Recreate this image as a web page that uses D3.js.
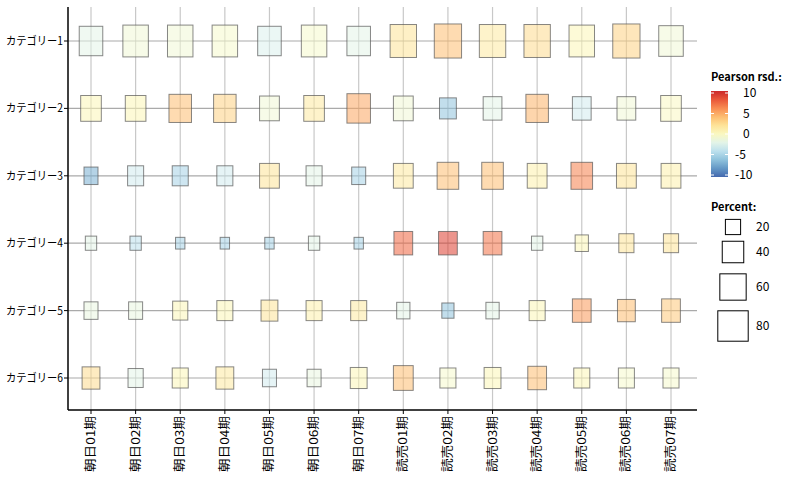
<!DOCTYPE html><html><head><meta charset="utf-8"><script src="https://cdn.jsdelivr.net/npm/d3@7"></script>
<style>body{margin:0;background:#fff}text{font-family:"Noto Sans CJK JP",Arial,sans-serif}</style></head><body><svg id="c" width="800" height="480"></svg>
<script>
const columns=["朝日01期","朝日02期","朝日03期","朝日04期","朝日05期","朝日06期","朝日07期","読売01期","読売02期","読売03期","読売04期","読売05期","読売06期","読売07期"];
const categories=["カテゴリー1","カテゴリー2","カテゴリー3","カテゴリー4","カテゴリー5","カテゴリー6"];
const percent=[
[82,96,96,96,82,96,82,103,110,103,103,96,110,89],
[63,63,75,75,58,63,82,58,42,52,75,52,52,63],
[29,38,38,38,58,38,29,58,69,69,58,69,58,58],
[19,19,13,13,13,19,13,52,52,52,19,26,34,34],
[29,29,34,38,42,38,38,26,22,26,38,52,47,52],
[47,34,38,47,29,29,42,58,38,42,52,38,38,38]];
const rsd=[
[-2,-1,-1,-0.5,-2.5,-0.5,-2,2,4,1.5,2.5,0.5,3,-1],
[0.5,0.5,4,3,-1,1.5,5,-1,-6,-2,4.5,-3,-1,0],
[-7,-3,-5,-3,2,-2,-5,1.5,4,4,1,6.5,2,1],
[-2,-4,-5,-5,-5,-2,-5,7.5,9,7,-2,0.5,2,2],
[-1.5,-1.5,0.5,0.5,2,1,1.5,-2,-6,-2,0.5,5.5,4,3.5],
[2.5,-2,0.5,1.5,-3,-1.5,0.5,4,-0.5,0.5,4,0.5,-0.5,-0.5]];
const legendPct=[20,40,60,80];
const legendRsd=[10,5,0,-5,-10];

const svg=d3.select("#c");
const x=d3.scalePoint().domain(columns).range([91,671]);
const y=d3.scalePoint().domain(categories).range([41,378]);
const side=p=>3.4*Math.sqrt(p);
const cside=p=>3.25*Math.sqrt(p);
const col=v=>d3.interpolateRdYlBu(0.5-v/10*0.42);
svg.append("g").selectAll("line").data(columns).join("line").attr("x1",d=>x(d)).attr("x2",d=>x(d)).attr("y1",7).attr("y2",410).attr("stroke","#c8c8c8").attr("stroke-width",1.2);
svg.append("g").selectAll("line").data(categories).join("line").attr("x1",68).attr("x2",697).attr("y1",d=>y(d)).attr("y2",d=>y(d)).attr("stroke","#aaa").attr("stroke-width",1.2);
const cells=[];categories.forEach((c,i)=>columns.forEach((k,j)=>cells.push({c,k,p:percent[i][j],v:rsd[i][j]})));
svg.append("g").selectAll("rect").data(cells).join("rect")
 .attr("x",d=>x(d.k)-cside(d.p)*0.4).attr("y",d=>y(d.c)-cside(d.p)/2)
 .attr("width",d=>cside(d.p)*0.8).attr("height",d=>cside(d.p))
 .attr("fill",d=>col(d.v)).attr("fill-opacity",0.55).attr("stroke","#555").attr("stroke-opacity",0.7).attr("stroke-width",1);
svg.append("line").attr("x1",68).attr("x2",68).attr("y1",7).attr("y2",410).attr("stroke","#000").attr("stroke-width",1.5);
svg.append("line").attr("x1",68).attr("x2",697).attr("y1",410).attr("y2",410).attr("stroke","#000").attr("stroke-width",1.5);
svg.append("g").selectAll("text").data(categories).join("text").attr("x",63).attr("y",d=>y(d)+4).attr("text-anchor","end").attr("font-size",11.5).attr("textLength",57).attr("lengthAdjust","spacingAndGlyphs").text(d=>d);
svg.append("g").selectAll("line").data(categories).join("line").attr("x1",64).attr("x2",68).attr("y1",d=>y(d)).attr("y2",d=>y(d)).attr("stroke","#000");
svg.append("g").selectAll("line").data(columns).join("line").attr("x1",d=>x(d)).attr("x2",d=>x(d)).attr("y1",410).attr("y2",414).attr("stroke","#000");
svg.append("g").selectAll("text").data(columns).join("text").attr("transform",d=>`translate(${x(d)+4},416) rotate(-90)`).attr("text-anchor","end").attr("font-size",12).attr("textLength",56).attr("lengthAdjust","spacingAndGlyphs").text(d=>d);
svg.append("text").attr("x",711).attr("y",81).attr("font-size",11).attr("font-weight","bold").attr("font-family","Arial").text("Pearson rsd.:");
const g=svg.append("defs").append("linearGradient").attr("id","gr").attr("x1",0).attr("x2",0).attr("y1",0).attr("y2",1);
d3.range(0,1.001,0.1).forEach(t=>g.append("stop").attr("offset",t).attr("stop-color",col(10-20*t)));
svg.append("rect").attr("x",711).attr("y",91).attr("width",17).attr("height",86).attr("fill","url(#gr)");
const ly=d3.scaleLinear().domain([10,-10]).range([93,175]);
svg.append("g").selectAll("line").data(legendRsd).join("line").attr("x1",711).attr("x2",714).attr("y1",d=>ly(d)).attr("y2",d=>ly(d)).attr("stroke","#fff");
svg.append("g").selectAll("line").data(legendRsd).join("line").attr("x1",725).attr("x2",728).attr("y1",d=>ly(d)).attr("y2",d=>ly(d)).attr("stroke","#fff");
svg.append("g").selectAll("text").data(legendRsd).join("text").attr("x",d=>d<0?735:743).attr("y",d=>ly(d)+4).attr("font-size",12).attr("font-family","Arial").text(d=>d);
svg.append("text").attr("x",711).attr("y",211).attr("font-size",11).attr("font-weight","bold").attr("font-family","Arial").text("Percent:");
const syv=[227,252,287,326];
svg.append("g").selectAll("rect").data(legendPct).join("rect").attr("x",d=>733-side(d)/2).attr("y",(d,i)=>syv[i]-side(d)/2).attr("width",d=>side(d)).attr("height",d=>side(d)).attr("fill","none").attr("stroke","#000");
svg.append("g").selectAll("text").data(legendPct).join("text").attr("x",756).attr("y",(d,i)=>syv[i]+4).attr("font-size",12).attr("font-family","Arial").text(d=>d);
</script></body></html>
